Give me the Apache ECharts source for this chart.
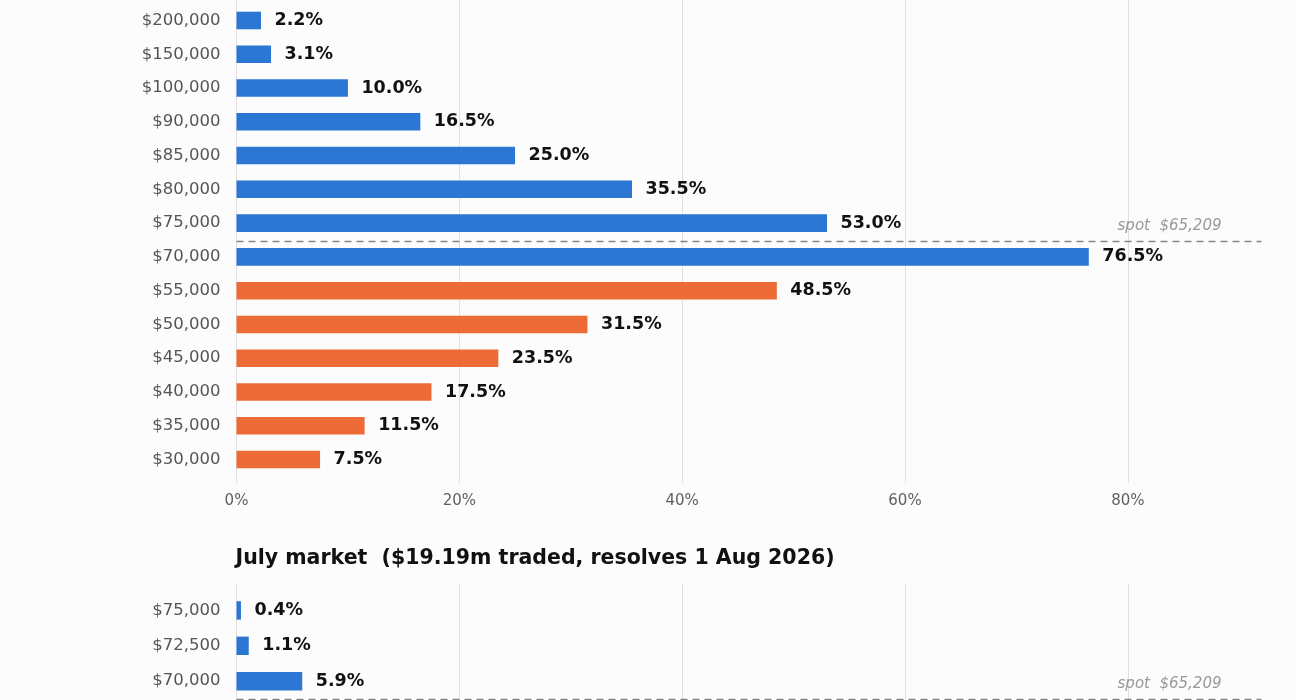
<!DOCTYPE html>
<html>
<head>
<meta charset="utf-8">
<script src="https://cdn.jsdelivr.net/npm/echarts@6/dist/echarts.min.js"></script>
<style>
  html, body { margin: 0; padding: 0; background: #fcfcfc; }
  #chart { width: 1296px; height: 700px; }
</style>
</head>
<body>
<div id="chart"></div>
<script>
// ---- Data ----
const juneReachStrikes = ['$200,000', '$150,000', '$100,000', '$90,000', '$85,000', '$80,000', '$75,000', '$70,000'];
const juneReachProbs   = [2.2, 3.1, 10.0, 16.5, 25.0, 35.5, 53.0, 76.5];
const juneDipStrikes   = ['$55,000', '$50,000', '$45,000', '$40,000', '$35,000', '$30,000'];
const juneDipProbs     = [48.5, 31.5, 23.5, 17.5, 11.5, 7.5];

const julyTitle        = 'July market  ($19.19m traded, resolves 1 Aug 2026)';
const julyReachStrikes = ['$75,000', '$72,500', '$70,000'];
const julyReachProbs   = [0.4, 1.1, 5.9];

const spotPrice = 65209;
const juneSpotRow = 6.53;   // spot line drawn between the $75,000 and $70,000 rows
const julySpotRow = 2.5;    // spot line drawn below the $70,000 row
const xTickValues = [0, 20, 40, 60, 80];

// ---- Build ----
const FONT = 'DejaVu Sans';
const BLUE = '#2b77d3';
const ORANGE = '#ec6b37';
const X_MAX = 92;
const LEFT = 236.5;
const RIGHT = 34.5;

const juneCats = juneReachStrikes.concat(juneDipStrikes);
const juneReachData = juneReachProbs.concat(juneDipStrikes.map(() => null));
const juneDipData = juneReachStrikes.map(() => null).concat(juneDipProbs);

const spotLabel = 'spot  $' + spotPrice.toLocaleString('en-US');

function valueLabel() {
  return {
    show: true, position: 'right', distance: 13.5,
    fontFamily: FONT, fontWeight: 'bold', fontSize: 17.5, color: '#111',
    formatter: p => (p.value == null ? '' : Number(p.value).toFixed(1) + '%')
  };
}

function spotMarkLine(row) {
  return {
    symbol: 'none', silent: true, animation: false,
    lineStyle: { type: [7, 5], color: '#858585', width: 1.4 },
    label: {
      show: true, position: 'insideEndTop', distance: [40, 7],
      formatter: spotLabel, fontFamily: FONT, fontStyle: 'italic',
      fontSize: 15, color: '#999'
    },
    data: [{ yAxis: row }]
  };
}

const gridXAxisBase = (gridIndex, showLabels) => ({
  type: 'value', gridIndex, min: 0, max: X_MAX, interval: 20,
  axisLine: { show: false }, axisTick: { show: false },
  axisLabel: {
    show: showLabels, margin: 11, fontFamily: FONT, fontSize: 15, color: '#5f5f5f',
    showMaxLabel: false,
    formatter: v => (xTickValues.includes(v) ? v + '%' : '')
  },
  splitLine: { show: true, showMaxLine: false, lineStyle: { color: '#e0e0e0', width: 1 } }
});

const hiddenX = (gridIndex) => ({ type: 'value', gridIndex, min: 0, max: X_MAX, show: false, splitLine: { show: false } });

const option = {
  backgroundColor: '#fcfcfc',
  animation: false,
  title: {
    text: julyTitle, left: LEFT - 1, top: 548, padding: 0,
    textStyle: { fontFamily: FONT, fontWeight: 'bold', fontSize: 20.5, color: '#111' }
  },
  grid: [
    // 0: June background (gridlines + x labels)
    { left: LEFT, right: RIGHT, top: -10, height: 493 },
    // 1: June bars
    { left: LEFT, right: RIGHT, top: 3.6, height: 472.8 },
    // 2: July background
    { left: LEFT, right: RIGHT, top: 584, height: 400 },
    // 3: July bars
    { left: LEFT, right: RIGHT, top: 592.7, height: 106.2 }
  ],
  xAxis: [
    gridXAxisBase(0, true),
    hiddenX(1),
    gridXAxisBase(2, false),
    hiddenX(3)
  ],
  yAxis: [
    { type: 'value', gridIndex: 0, show: false },
    {
      type: 'category', gridIndex: 1, data: juneCats, inverse: true,
      axisLine: { show: false }, axisTick: { show: false }, splitLine: { show: false },
      axisLabel: { margin: 16, fontFamily: FONT, fontSize: 16.5, color: '#555' }
    },
    { type: 'value', gridIndex: 1, min: -0.5, max: juneCats.length - 0.5, inverse: true, show: false },
    { type: 'value', gridIndex: 2, show: false },
    {
      type: 'category', gridIndex: 3, data: julyReachStrikes, inverse: true,
      axisLine: { show: false }, axisTick: { show: false }, splitLine: { show: false },
      axisLabel: { margin: 16, fontFamily: FONT, fontSize: 16.5, color: '#555' }
    },
    { type: 'value', gridIndex: 3, min: -0.5, max: julyReachStrikes.length - 0.5, inverse: true, show: false }
  ],
  series: [
    {
      name: 'June reach', type: 'bar', xAxisIndex: 1, yAxisIndex: 1,
      data: juneReachData, barWidth: '52%', barGap: '-100%',
      itemStyle: { color: BLUE }, label: valueLabel()
    },
    {
      name: 'June dip', type: 'bar', xAxisIndex: 1, yAxisIndex: 1,
      data: juneDipData, barWidth: '52%', barGap: '-100%',
      itemStyle: { color: ORANGE }, label: valueLabel()
    },
    {
      name: 'June spot', type: 'line', xAxisIndex: 1, yAxisIndex: 2,
      data: [[0, juneSpotRow]], symbol: 'none', lineStyle: { opacity: 0 },
      markLine: spotMarkLine(juneSpotRow)
    },
    {
      name: 'July reach', type: 'bar', xAxisIndex: 3, yAxisIndex: 4,
      data: julyReachProbs, barWidth: '52%',
      itemStyle: { color: BLUE }, label: valueLabel()
    },
    {
      name: 'July spot', type: 'line', xAxisIndex: 3, yAxisIndex: 5,
      data: [[0, julySpotRow]], symbol: 'none', lineStyle: { opacity: 0 },
      markLine: spotMarkLine(julySpotRow)
    }
  ]
};

const chart = echarts.init(document.getElementById('chart'), null, { renderer: 'canvas' });
chart.setOption(option);
</script>
</body>
</html>
